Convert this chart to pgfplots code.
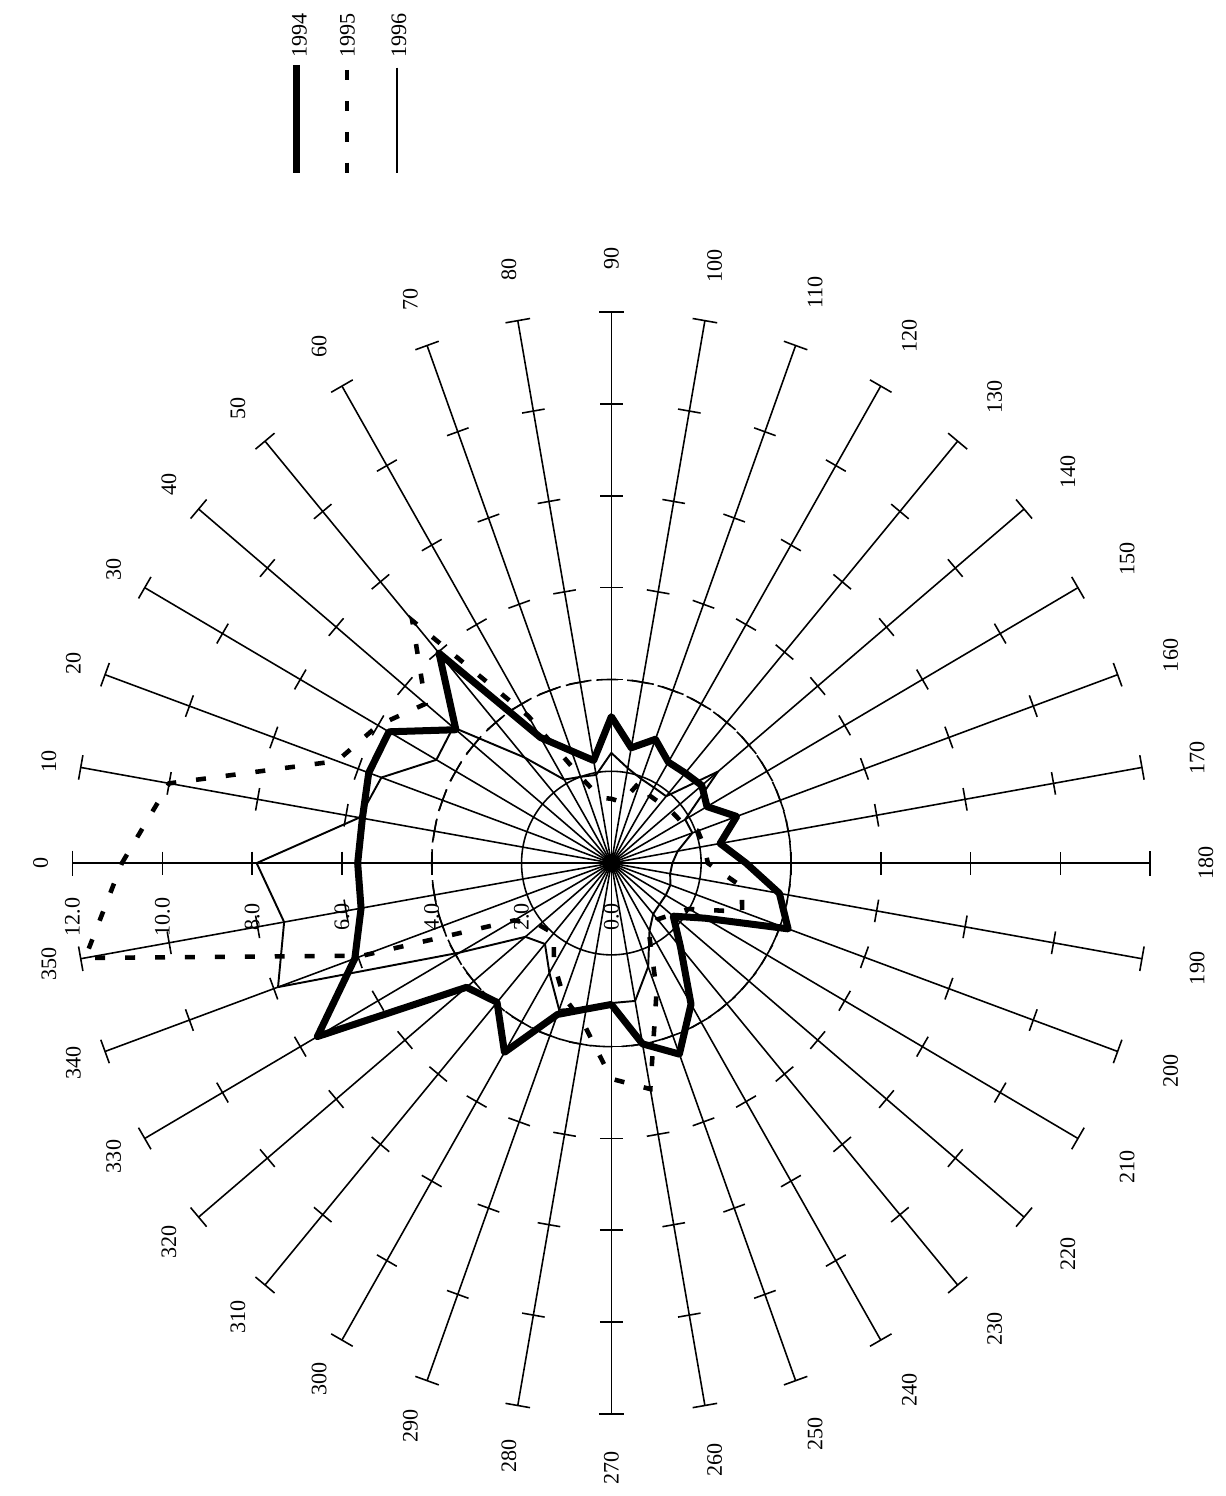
\documentclass[border=0pt]{standalone}
\usepackage{fontspec}
\setmainfont{Liberation Serif}
\usepackage{pgfplots}
\pgfplotsset{compat=1.18}
\usepackage{pgfplotstable}

% wind-rose style frequencies, one value per 10-degree sector
\pgfplotstableread{
theta r
0   5.65
10  5.63
20  5.75
30  5.72
40  4.52
50  5.97
60  3.16
70  2.60
80  2.27
90  3.19
100 2.55
110 2.87
120 2.54
130 2.56
140 2.63
150 2.46
160 2.97
170 2.46
180 3.00
190 3.80
200 4.19
210 2.40
220 1.80
230 2.40
240 3.55
250 4.43
260 4.00
270 3.08
280 3.23
290 3.51
300 4.76
310 3.96
320 4.21
330 7.56
340 6.08
350 5.66
360 5.65
}\yearA

\pgfplotstableread{
theta r
0   10.9
10  10.0
20  6.5
30  6.0
40  5.4
50  6.9
60  3.7
70  2.0
80  1.45
90  1.4
100 1.35
110 1.9
120 1.7
130 1.7
140 1.75
150 1.8
160 2.05
170 2.1
180 2.15
190 2.95
200 3.1
210 2.0
220 1.75
230 1.6
240 1.65
250 2.95
260 5.0
270 4.7
280 3.55
290 3.1
300 2.55
310 2.0
320 2.1
330 2.5
340 5.9
350 11.9
360 10.9
}\yearB

\pgfplotstableread{
theta r
0   7.9
10  5.7
20  5.45
30  4.5
40  4.6
50  3.0
60  2.1
70  2.0
80  1.95
90  2.4
100 2.1
110 1.95
120 1.9
130 1.9
140 3.1
150 1.9
160 1.92
170 1.5
180 1.36
190 1.33
200 1.4
210 1.4
220 1.4
230 1.45
240 1.7
250 2.4
260 3.05
270 3.05
280 3.2
290 3.4
300 2.76
310 2.3
320 2.5
330 3.9
340 7.9
350 7.4
360 7.9
}\yearC

% one cross tick on spoke #1 at radius #2, half length #3 (in 0.1 mm)
\newcommand\spoketick[3]{%
  \draw[line width=0.45pt]
    (axis cs:{-#2*cos(#1)+#3*0.0222*sin(#1)},{#2*sin(#1)+#3*0.0217*cos(#1)}) --
    (axis cs:{-#2*cos(#1)-#3*0.0222*sin(#1)},{#2*sin(#1)-#3*0.0217*cos(#1)});}

\begin{document}
\begin{tikzpicture}
\begin{axis}[
  scale only axis,
  width=12.2cm, height=14.96cm,
  xmin=-13.616, xmax=13.496,
  ymin=-13.717, ymax=18.804,
  hide axis, clip=false,
  font=\fontsize{6.3}{7.5}\selectfont,
]
\path (rel axis cs:0,0) rectangle (rel axis cs:1,1);

% spokes, cross ticks and direction labels
\pgfplotsinvokeforeach{0,10,...,350}{
  \draw[line width=0.45pt] (axis cs:0,0) -- (axis cs:{-12*cos(#1)},{12*sin(#1)});
  \spoketick{#1}{12}{12.5}
  \spoketick{#1}{10}{11.5}
  \spoketick{#1}{8}{11.5}
  \spoketick{#1}{6}{11.5}
  \spoketick{#1}{4}{11.5}
  \node[rotate=90] at
    (axis cs:{-(540+44-12*cos(#1)+10*sin(#1)^2)*cos(#1)/45},
             {(552+44-12*cos(#1)+10*sin(#1)^2)*sin(#1)/46}) {#1};
}

% reference rings
\draw[line width=0.45pt] (axis cs:0,0) ellipse [x radius=2, y radius=2];
\draw[line width=0.45pt, dash pattern=on 0.22cm off 0.09cm] (axis cs:0,0) ellipse [x radius=4, y radius=4];
\fill (axis cs:0,0) ellipse [x radius=0.2, y radius=0.2];

% radial scale
\pgfplotsinvokeforeach{0,2,...,12}{
  \node[rotate=90, inner sep=0.5pt] at (axis cs:-#1,-1.17) {#1.0};
}

\addplot[black, line width=2pt, line join=round]
  table[x expr={-\thisrow{r}*cos(\thisrow{theta})}, y expr={\thisrow{r}*sin(\thisrow{theta})}] {\yearA};
\addplot[black, line width=1.3pt, dash pattern=on 0.1cm off 0.2cm]
  table[x expr={-\thisrow{r}*cos(\thisrow{theta})}, y expr={\thisrow{r}*sin(\thisrow{theta})}] {\yearB};
\addplot[black, line width=0.55pt, line join=round]
  table[x expr={-\thisrow{r}*cos(\thisrow{theta})}, y expr={\thisrow{r}*sin(\thisrow{theta})}] {\yearC};

% key
\draw[line width=2pt] (axis cs:-7.016,17.39) -- (axis cs:-7.016,15.04);
\draw[line width=1.2pt, dash pattern=on 0.1cm off 0.21cm] (axis cs:-5.88,17.28) -- (axis cs:-5.88,15.04);
\draw[line width=0.55pt] (axis cs:-4.77,17.33) -- (axis cs:-4.77,15.04);
\node[rotate=90] at (axis cs:-6.95,18.04) {1994};
\node[rotate=90] at (axis cs:-5.88,18.04) {1995};
\node[rotate=90] at (axis cs:-4.73,18.04) {1996};
\end{axis}
\end{tikzpicture}
\end{document}
